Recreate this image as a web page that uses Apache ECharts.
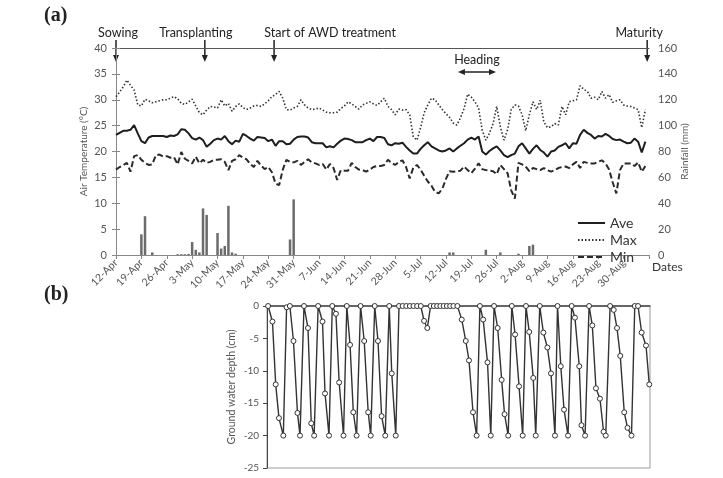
<!DOCTYPE html>
<html>
<head>
<meta charset="utf-8">
<script src="https://cdn.jsdelivr.net/npm/echarts@6/dist/echarts.min.js"></script>
<style>
  html, body { margin: 0; padding: 0; background: #fff; }
  #chart { width: 723px; height: 478px; }
</style>
</head>
<body>
<div id="chart"></div>
<script>
// day 0 = 12-Apr, one value per day
var dateLabels = ['12-Apr', '19-Apr', '26-Apr', '3-May', '10-May', '17-May', '24-May', '31-May',
  '7-Jun', '14-Jun', '21-Jun', '28-Jun', '5-Jul', '12-Jul', '19-Jul', '26-Jul',
  '2-Aug', '9-Aug', '16-Aug', '23-Aug', '30-Aug'];

var aveTemp = [
  23.2, 23.6, 24.0, 24.0, 24.2, 25.1, 23.5, 22.0, 21.6, 22.7,
  23.0, 23.0, 23.0, 23.0, 22.8, 23.1, 23.0, 23.3, 24.3, 24.2,
  23.5, 22.6, 22.3, 22.7, 22.2, 20.9, 21.5, 22.2, 22.5, 22.3,
  23.0, 22.0, 21.4, 22.1, 21.9, 23.4, 23.0, 22.5, 22.1, 22.8,
  22.7, 22.6, 22.0, 22.3, 21.1, 22.0, 22.0, 21.4, 21.5, 22.3,
  22.8, 22.9, 22.9, 22.7, 21.8, 21.6, 21.6, 21.6, 20.8, 21.0,
  20.8, 21.5, 22.1, 22.5, 22.4, 22.2, 21.8, 21.8, 21.8, 22.2,
  22.5, 22.0, 22.8, 22.8, 22.6, 21.4, 21.2, 21.6, 21.5, 21.7,
  20.9, 20.2, 19.6, 19.6, 20.5, 21.2, 21.8, 21.0, 20.6, 20.2,
  20.0, 20.2, 20.6, 20.0, 20.6, 21.1, 21.6, 22.3, 22.7, 22.3,
  22.9, 20.0, 19.4, 20.1, 20.6, 21.0, 20.2, 19.3, 18.9, 19.3,
  19.6, 21.0, 21.6, 20.6, 19.6, 20.5, 21.2, 20.3, 19.8, 19.0,
  20.0, 20.2, 20.9, 21.2, 21.6, 20.6, 21.6, 21.5, 23.2, 24.2,
  23.6, 23.2, 22.5, 23.0, 22.9, 23.4, 23.0, 22.4, 22.2, 22.3,
  21.9, 21.6, 21.7, 22.5, 21.9, 19.8, 21.9];

var maxTemp = [
  30.6, 31.5, 32.5, 33.8, 32.8, 31.9, 29.0, 28.8, 30.1, 29.8,
  29.4, 29.6, 29.8, 30.0, 30.0, 30.3, 30.6, 30.2, 29.3, 29.1,
  29.6, 30.1, 28.8, 27.5, 27.1, 28.0, 28.7, 28.6, 28.4, 30.0,
  28.8, 29.3, 27.8, 28.7, 29.2, 28.5, 28.1, 28.4, 28.8, 28.9,
  28.7, 29.2, 29.8, 30.6, 31.0, 31.6, 30.3, 28.1, 28.0, 28.4,
  28.7, 30.0, 29.0, 28.4, 28.1, 28.2, 28.4, 28.0, 27.6, 27.5,
  27.5, 27.6, 28.3, 28.8, 29.6, 29.2, 28.7, 28.2, 29.0, 29.3,
  29.6, 29.2, 28.9, 29.6, 30.3, 28.7, 28.1, 27.1, 28.2, 28.0,
  28.1, 27.1, 22.8, 22.2, 24.6, 27.5, 29.0, 30.3, 30.0, 29.0,
  28.1, 27.3, 26.6, 25.5, 25.1, 26.5, 28.3, 31.1, 30.5, 29.6,
  28.4, 24.1, 22.2, 23.5, 25.4, 28.7, 24.8, 22.2, 24.2, 28.1,
  29.0, 28.8, 27.1, 24.0, 27.1, 29.6, 28.1, 29.9, 25.7, 24.6,
  24.8, 25.4, 25.1, 28.7, 27.1, 29.6, 29.8, 30.0, 32.7, 32.0,
  31.6, 30.3, 30.5, 30.0, 31.6, 30.3, 31.0, 29.5, 29.8, 30.0,
  29.0, 28.8, 28.7, 28.4, 28.1, 24.6, 28.1];

var minTemp = [
  16.5, 17.0, 17.4, 17.8, 16.1, 19.1, 19.3, 18.4, 17.8, 17.4,
  17.5, 19.3, 19.4, 19.0, 19.1, 18.8, 18.9, 17.5, 19.9, 18.6,
  18.2, 17.7, 19.0, 17.7, 18.4, 17.8, 18.0, 18.4, 18.4, 18.5,
  18.0, 16.4, 18.2, 18.5, 19.3, 18.8, 18.5, 17.6, 17.0, 18.2,
  17.3, 16.6, 17.0, 16.0, 13.8, 13.5, 16.5, 18.4, 18.0, 17.9,
  18.2, 17.4, 18.0, 18.5, 17.9, 17.7, 17.4, 17.6, 16.5, 17.6,
  16.8, 14.5, 16.4, 16.3, 16.3, 17.8, 17.0, 16.5, 16.4, 16.1,
  16.5, 17.0, 17.2, 17.2, 17.4, 18.4, 17.8, 17.4, 18.0, 18.3,
  17.0, 14.8, 16.9, 17.4, 16.5, 15.3, 14.2, 13.4, 12.2, 11.9,
  12.8, 14.7, 16.2, 16.1, 16.2, 16.3, 17.1, 16.4, 15.8, 16.7,
  17.7, 16.6, 16.4, 16.3, 16.2, 15.6, 17.4, 16.6, 15.8, 12.5,
  10.9, 17.8, 17.5, 17.1, 16.2, 16.8, 16.6, 16.4, 16.8, 16.4,
  16.1, 16.4, 16.8, 17.0, 17.1, 16.8, 17.5, 18.0, 16.8, 18.0,
  17.8, 17.7, 17.7, 18.0, 18.3, 17.7, 16.5, 14.0, 11.9, 16.4,
  17.7, 17.7, 17.7, 17.2, 17.9, 16.1, 17.2];

var rainDays = [7, 8, 10, 17, 18, 19, 20, 21, 22, 23, 24, 25, 28, 29, 30, 31, 32, 33,
  48, 49, 92, 93, 102, 106, 111, 114, 115];
var rainMm = [16, 30, 2, 0.6, 0.6, 0.6, 0.8, 10, 4, 2, 36, 31, 17, 5, 7, 38, 2, 1,
  12, 43, 2, 2, 4, 2, 1, 7, 8];

var gwDays = [
  41.9, 43.1, 44.0, 44.9, 46.1, 47.0, 47.9, 48.9, 50.0, 50.7,
  51.8, 52.9, 53.8, 54.6, 55.7, 56.9, 57.6, 58.7, 59.6, 60.6,
  61.5, 62.7, 63.6, 64.5, 65.4, 66.3, 67.4, 68.4, 69.5, 70.2,
  71.3, 72.2, 73.2, 74.2, 75.3, 76.0, 77.1, 78, 79, 80,
  81, 82, 83, 84, 84.9, 85.8, 86.7, 87.6, 88.5, 89.4,
  90.3, 91.2, 92.1, 93.0, 94.1, 95.3, 96.4, 97.3, 98.4, 99.4,
  100.3, 101.2, 102.4, 103.3, 104.2, 105.2, 106.3, 107.1, 108.1, 109.1,
  110.0, 111.1, 112.1, 113.0, 113.9, 115.0, 115.7, 116.8, 117.8, 118.9,
  119.9, 121.0, 121.7, 122.6, 123.5, 124.6, 125.6, 126.5, 127.7, 128.3,
  129.3, 130.4, 131.3, 132.3, 133.4, 134.4, 135.0, 136.2, 137.2, 138.1,
  139.0, 140.1, 141.0, 142.1, 143.0, 143.9, 144.9, 146.1, 147.0];
var gwDepth = [
  0, -2.4, -12.1, -17.3, -20, -0.2, 0, -5.4, -16.5, -20,
  0, -3.4, -18.1, -20, 0, -2.4, -13.5, -20, 0, -1.2,
  -11.8, -20, 0, -6.0, -16.4, -20, 0, -5.4, -16.4, -20,
  0, -5.4, -17.0, -20, 0, -10.4, -20, 0, 0, 0,
  0, 0, 0, 0, -2.3, -3.4, 0, 0, 0, 0,
  0, 0, 0, 0, 0, -2.1, -5.4, -8.4, -16.4, -20,
  0, -2.1, -8.7, -20, 0, -3.4, -11.4, -16.7, -20, 0,
  -4.4, -12.4, -20, 0, -4.0, -11.1, -20, 0, -4.1, -6.4,
  -10.4, -20, 0, -9.3, -16.0, -20, 0, -1.8, -9.3, -18.4,
  -20, 0, -3.0, -12.7, -14.3, -19.4, -20, 0, -0.6, -3.4,
  -7.7, -16.4, -18.8, -20, 0, 0, -4.1, -6.1, -12.1];

var eventNames = ['Sowing', 'Transplanting', 'Start of AWD treatment', 'Maturity'];
var eventDays = [0, 24.5, 43.6, 146.5];
var headingDays = [94.3, 104.8];

var FONT = 'Lato, "Open Sans", sans-serif';
var chart = echarts.init(document.getElementById('chart'));

var option = {
  backgroundColor: '#fff',
  animation: false,
  textStyle: { fontFamily: FONT },
  grid: [
    { left: 116, top: 48, width: 533, height: 207 },
    { left: 267, top: 306, width: 383, height: 162, show: true, borderColor: '#999', borderWidth: 1 }
  ],
  legend: {
    data: ['Ave', 'Max', 'Min'],
    orient: 'vertical',
    left: 572, top: 211,
    itemWidth: 27, itemHeight: 10, itemGap: 3,
    itemStyle: { opacity: 0 },
    textStyle: { fontSize: 14, color: '#333', fontFamily: FONT }
  },
  xAxis: [
    {
      gridIndex: 0, type: 'value', min: 0, max: 147, interval: 7,
      name: 'Dates', nameLocation: 'end', nameGap: -15,
      nameTextStyle: { fontSize: 12, color: '#333', verticalAlign: 'top', padding: [6, 0, 0, 0] },
      axisLine: { onZero: false, lineStyle: { color: '#888' } },
      axisTick: { length: 4, lineStyle: { color: '#888' } },
      axisLabel: {
        rotate: 45, fontSize: 10.5, color: '#555', margin: 6,
        formatter: function (v) { return dateLabels[v / 7] || ''; }
      },
      splitLine: { show: false }
    },
    {
      gridIndex: 0, type: 'value', position: 'top', min: 0, max: 147,
      axisLine: { onZero: false, lineStyle: { color: '#555', width: 1 } },
      axisTick: { show: false }, axisLabel: { show: false }, splitLine: { show: false }
    },
    {
      gridIndex: 1, type: 'value', min: 41.6, max: 147.2,
      axisLine: { onZero: true, lineStyle: { color: '#444', width: 1.5 } },
      axisTick: { show: false }, axisLabel: { show: false }, splitLine: { show: false }
    }
  ],
  yAxis: [
    {
      gridIndex: 0, type: 'value', min: 0, max: 40, interval: 5,
      name: 'Air Temperature (°C)', nameLocation: 'middle', nameGap: 27, nameRotate: 90,
      nameMoveOverlap: false,
      nameTextStyle: { fontSize: 10, color: '#555' },
      axisLine: { show: true, lineStyle: { color: '#888' } },
      axisTick: { show: true, length: 4, lineStyle: { color: '#888' } },
      axisLabel: { fontSize: 11, color: '#555', margin: 9 },
      splitLine: { show: false }
    },
    {
      gridIndex: 0, type: 'value', position: 'right', min: 0, max: 160, interval: 20,
      name: 'Rainfall (mm)', nameLocation: 'middle', nameGap: 31, nameRotate: 90,
      nameMoveOverlap: false,
      nameTextStyle: { fontSize: 10, color: '#555' },
      axisLine: { show: true, lineStyle: { color: '#888' } },
      axisTick: { show: true, length: 4, lineStyle: { color: '#888' } },
      axisLabel: { fontSize: 11, color: '#555', margin: 9 },
      splitLine: { show: false }
    },
    {
      gridIndex: 1, type: 'value', min: -25, max: 0, interval: 5,
      name: 'Ground water depth (cm)', nameLocation: 'middle', nameGap: 30, nameRotate: 90,
      nameMoveOverlap: false,
      nameTextStyle: { fontSize: 10.5, color: '#555' },
      axisLine: { show: true, lineStyle: { color: '#444' } },
      axisTick: { show: true, length: 4, lineStyle: { color: '#444' } },
      axisLabel: { fontSize: 10, color: '#555', margin: 8 },
      splitLine: { show: false }
    }
  ],
  series: [
    {
      name: 'Rainfall', type: 'bar', xAxisIndex: 0, yAxisIndex: 1, barWidth: 2.5,
      itemStyle: { color: '#6b6b6b' },
      data: rainDays.map(function (d, i) { return [d, rainMm[i]]; })
    },
    {
      name: 'Ave', type: 'line', xAxisIndex: 0, yAxisIndex: 0, symbol: 'none',
      lineStyle: { color: '#1e1e1e', width: 2 }, itemStyle: { color: '#1e1e1e' },
      data: aveTemp.map(function (v, i) { return [i, v]; })
    },
    {
      name: 'Max', type: 'line', xAxisIndex: 0, yAxisIndex: 0, symbol: 'none',
      lineStyle: { color: '#333', width: 1.6, type: [1.5, 2] }, itemStyle: { color: '#333' },
      data: maxTemp.map(function (v, i) { return [i, v]; })
    },
    {
      name: 'Min', type: 'line', xAxisIndex: 0, yAxisIndex: 0, symbol: 'none',
      lineStyle: { color: '#2a2a2a', width: 2, type: [6, 3] }, itemStyle: { color: '#2a2a2a' },
      data: minTemp.map(function (v, i) { return [i, v]; })
    },
    {
      name: 'Ground water', type: 'line', xAxisIndex: 2, yAxisIndex: 2,
      symbol: 'circle', symbolSize: 5,
      itemStyle: { color: '#fff', borderColor: '#333', borderWidth: 1 },
      lineStyle: { color: '#333', width: 1.4 },
      data: gwDays.map(function (d, i) { return [d, gwDepth[i]]; })
    }
  ]
};
chart.setOption(option);

// annotations placed from the date scale
var textShift = [2, -9, 56, -8];
var g = [
  { type: 'text', left: 44, top: 6, style: { text: '(a)', font: 'bold 20px "Liberation Serif", serif', fill: '#222' } },
  { type: 'text', left: 44, top: 285, style: { text: '(b)', font: 'bold 20px "Liberation Serif", serif', fill: '#222' } }
];
eventDays.forEach(function (d, i) {
  var x = chart.convertToPixel({ xAxisIndex: 0 }, d);
  g.push({ type: 'line', shape: { x1: x, y1: 40, x2: x, y2: 56 }, style: { stroke: '#222', lineWidth: 1.5 } });
  g.push({ type: 'polygon', shape: { points: [[x - 3, 55], [x + 3, 55], [x, 62]] }, style: { fill: '#222' } });
  g.push({ type: 'text', x: x + textShift[i], y: 33,
    style: { text: eventNames[i], font: '12.5px ' + FONT, fill: '#222', textAlign: 'center', textVerticalAlign: 'middle' } });
});
var hx1 = chart.convertToPixel({ xAxisIndex: 0 }, headingDays[0]);
var hx2 = chart.convertToPixel({ xAxisIndex: 0 }, headingDays[1]);
g.push({ type: 'line', shape: { x1: hx1 + 4, y1: 72, x2: hx2 - 4, y2: 72 }, style: { stroke: '#222', lineWidth: 1.5 } });
g.push({ type: 'polygon', shape: { points: [[hx1, 72], [hx1 + 7, 69], [hx1 + 7, 75]] }, style: { fill: '#222' } });
g.push({ type: 'polygon', shape: { points: [[hx2, 72], [hx2 - 7, 69], [hx2 - 7, 75]] }, style: { fill: '#222' } });
g.push({ type: 'text', x: (hx1 + hx2) / 2, y: 60,
  style: { text: 'Heading', font: '12.5px ' + FONT, fill: '#222', textAlign: 'center', textVerticalAlign: 'middle' } });
chart.setOption({ graphic: g });
</script>
</body>
</html>
